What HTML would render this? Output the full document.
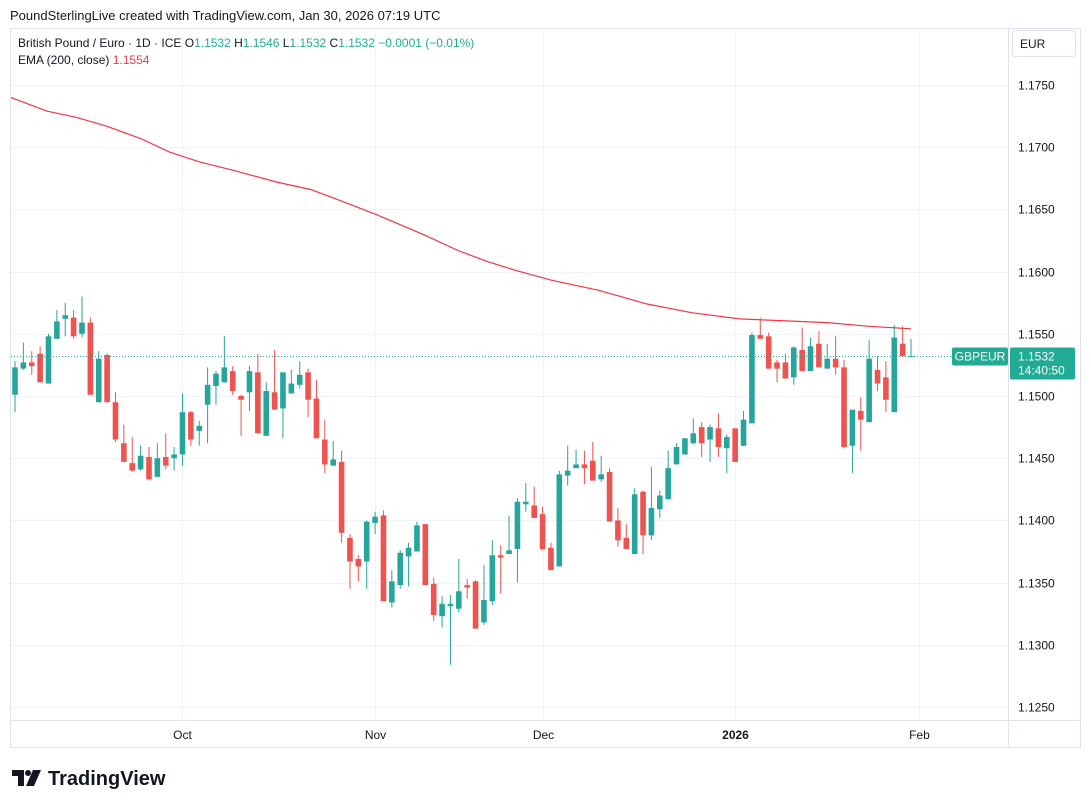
<!DOCTYPE html>
<html><head><meta charset="utf-8"><style>
body{margin:0;background:#fff;font-family:"Liberation Sans",sans-serif;}
#wrap{position:relative;width:1091px;height:808px;overflow:hidden;}
svg text{font-family:"Liberation Sans",sans-serif;}
</style></head><body>
<div id="wrap">
<svg id="chart" width="1091" height="808"></svg>
</div>
<script>
const open=[1.1501,1.1522,1.1527,1.1534,1.1510,1.1546,1.1562,1.1563,1.1550,1.1559,1.1495,1.1533,1.1495,1.1462,1.1446,1.1441,1.1451,1.1435,1.1451,1.1450,1.1453,1.1487,1.1472,1.1493,1.1508,1.1511,1.1520,1.1500,1.1503,1.1519,1.1468,1.1503,1.1490,1.1502,1.1509,1.1519,1.1498,1.1465,1.1444,1.1447,1.1386,1.1369,1.1367,1.1398,1.1404,1.1334,1.1348,1.1371,1.1375,1.1397,1.1349,1.1323,1.1331,1.1329,1.1348,1.1351,1.1318,1.1335,1.1372,1.1373,1.1377,1.1413,1.1412,1.1405,1.1378,1.1363,1.1436,1.1442,1.1445,1.1448,1.1433,1.1439,1.1400,1.1386,1.1373,1.1423,1.1388,1.1409,1.1417,1.1445,1.1453,1.1462,1.1475,1.1465,1.1474,1.1458,1.1474,1.1460,1.1478,1.1549,1.1548,1.1527,1.1527,1.1515,1.1537,1.1520,1.1542,1.1522,1.1530,1.1523,1.1460,1.1488,1.1479,1.1521,1.1515,1.1487,1.1542,1.1532];
const high=[1.1528,1.1543,1.1536,1.1540,1.1550,1.1569,1.1575,1.1569,1.1580,1.1563,1.1536,1.1534,1.1503,1.1477,1.1467,1.1460,1.1459,1.1462,1.1470,1.1459,1.1502,1.1488,1.1480,1.1523,1.1520,1.1548,1.1524,1.1501,1.1524,1.1534,1.1511,1.1537,1.1519,1.1521,1.1528,1.1522,1.1513,1.1481,1.1464,1.1456,1.1389,1.1372,1.1400,1.1407,1.1408,1.1360,1.1376,1.1382,1.1399,1.1397,1.1354,1.1339,1.1340,1.1369,1.1353,1.1352,1.1364,1.1384,1.1380,1.1404,1.1418,1.1430,1.1427,1.1411,1.1382,1.1440,1.1460,1.1457,1.1456,1.1463,1.1452,1.1442,1.1410,1.1397,1.1426,1.1424,1.1443,1.1424,1.1456,1.1462,1.1466,1.1482,1.1479,1.1477,1.1486,1.1469,1.1474,1.1488,1.1551,1.1563,1.1551,1.1529,1.1534,1.1540,1.1555,1.1547,1.1552,1.1542,1.1548,1.1529,1.1489,1.1499,1.1545,1.1532,1.1528,1.1557,1.1556,1.1546];
const low=[1.1487,1.1521,1.1517,1.1511,1.1510,1.1546,1.1548,1.1546,1.1547,1.1501,1.1495,1.1495,1.1463,1.1447,1.1439,1.1440,1.1432,1.1435,1.1441,1.1440,1.1444,1.1460,1.1460,1.1462,1.1493,1.1511,1.1501,1.1468,1.1488,1.1470,1.1468,1.1489,1.1466,1.1502,1.1506,1.1483,1.1466,1.1438,1.1444,1.1382,1.1345,1.1351,1.1345,1.1389,1.1335,1.1330,1.1345,1.1347,1.1375,1.1348,1.1319,1.1314,1.1284,1.1326,1.1337,1.1313,1.1316,1.1332,1.1341,1.1373,1.1350,1.1407,1.1402,1.1376,1.1360,1.1363,1.1428,1.1445,1.1429,1.1432,1.1431,1.1399,1.1379,1.1377,1.1373,1.1373,1.1384,1.1402,1.1417,1.1445,1.1453,1.1461,1.1451,1.1447,1.1451,1.1438,1.1447,1.1460,1.1478,1.1546,1.1522,1.1511,1.1514,1.1509,1.1520,1.1520,1.1523,1.1522,1.1517,1.1458,1.1438,1.1456,1.1479,1.1504,1.1487,1.1487,1.1532,1.1532];
const close=[1.1523,1.1527,1.1524,1.1511,1.1548,1.1560,1.1565,1.1548,1.1559,1.1501,1.1530,1.1495,1.1465,1.1447,1.1440,1.1452,1.1433,1.1450,1.1444,1.1453,1.1487,1.1465,1.1476,1.1509,1.1518,1.1523,1.1504,1.1497,1.1520,1.1470,1.1504,1.1489,1.1519,1.1510,1.1517,1.1497,1.1466,1.1445,1.1449,1.1390,1.1367,1.1363,1.1399,1.1403,1.1335,1.1351,1.1374,1.1378,1.1396,1.1348,1.1324,1.1333,1.1333,1.1343,1.1346,1.1313,1.1336,1.1372,1.1370,1.1376,1.1415,1.1415,1.1402,1.1377,1.1360,1.1437,1.1440,1.1445,1.1442,1.1432,1.1437,1.1399,1.1384,1.1377,1.1421,1.1388,1.1410,1.1420,1.1442,1.1459,1.1466,1.1470,1.1462,1.1475,1.1459,1.1467,1.1447,1.1481,1.1549,1.1546,1.1522,1.1522,1.1514,1.1539,1.1520,1.1540,1.1523,1.1530,1.1523,1.1459,1.1489,1.1481,1.1530,1.1510,1.1497,1.1547,1.1532,1.1532];
const emaIdx=[-0.5,3.8,7.3,10.9,15,18.5,22.1,26.3,31.2,35.3,38.1,43.1,48.7,52.9,56.4,59.8,64.1,69.7,75.4,80.8,86.5,97,102,107];
const emaVal=[1.1740,1.1729,1.1724,1.1717,1.1707,1.1696,1.1688,1.1681,1.1672,1.1666,1.1659,1.1646,1.1630,1.1617,1.1608,1.1601,1.1593,1.1585,1.1574,1.1567,1.1562,1.1559,1.1556,1.1554];
const priceTicks=[1.1250,1.1300,1.1350,1.1400,1.1450,1.1500,1.1550,1.1600,1.1650,1.1700,1.1750];
const monthIdx=[20,43,63,86,108];
const monthLabels=["Oct","Nov","Dec","2026","Feb"];
const lastPrice=1.1532;

const NS="http://www.w3.org/2000/svg";
const svg=document.getElementById('chart');
function y(p){return 85+(1.1750-p)*12440;}
function x(i){return 15+i*8.374;}
function mk(t,a,parent){const e=document.createElementNS(NS,t);for(const k in a)e.setAttribute(k,a[k]);(parent||svg).appendChild(e);return e;}
const UP="#26a69a",DN="#ef5350";
let e;
e=mk('rect',{x:10.5,y:28.5,width:1070,height:719,fill:'none',stroke:'#e0e3eb'});


e=mk('line',{x1:1008.5,y1:28,x2:1008.5,y2:748,stroke:'#e0e3eb'});


e=mk('line',{x1:10,y1:720.5,x2:1081,y2:720.5,stroke:'#e0e3eb'});


priceTicks.forEach(p=>{
 const yy=Math.round(y(p))+0.5;
 e=mk('line',{x1:11,y1:yy,x2:1008,y2:yy,stroke:'#f0f3fa'});
 
 
 e=mk('text',{x:1018,y:yy+4,'font-size':12,fill:'#131722'});
 e.textContent=p.toFixed(4);
 
 
});
monthIdx.forEach((m,k)=>{
 const xx=Math.round(x(m))+0.5;
 e=mk('line',{x1:xx,y1:29,x2:xx,y2:720,stroke:'#f0f3fa'});
 
 
 e=mk('text',{x:xx,y:739,'font-size':12,fill:'#131722','text-anchor':'middle','font-weight':monthLabels[k]==='2026'?'bold':'normal'});
 e.textContent=monthLabels[k];
 
 
});
const pts=emaIdx.map((v,k)=>x(v).toFixed(1)+','+y(emaVal[k]).toFixed(1)).join(' ');
e=mk('polyline',{points:pts,fill:'none',stroke:'#f23645','stroke-width':1.2});


open.forEach((o,i)=>{
 const c=close[i],col=c>=o?UP:DN,cx=x(i);
 const g=mk('g',{});
 
 
 mk('line',{x1:cx,y1:y(high[i]),x2:cx,y2:y(low[i]),stroke:col,'stroke-width':1},g);
 const t=y(Math.max(o,c)),b=y(Math.min(o,c));
 mk('rect',{x:cx-2.8,y:t,width:5.6,height:Math.max(1,b-t),fill:col},g);
});
const ly=Math.round(y(lastPrice))+0.5;
e=mk('line',{x1:11,y1:ly,x2:1008,y2:ly,stroke:UP,'stroke-dasharray':'1,2'});


e=mk('rect',{x:952,y:ly-9,width:56,height:18,rx:2,fill:'#22ab94'});


e=mk('text',{x:980,y:ly+4,'font-size':12,fill:'#fff','text-anchor':'middle'});e.textContent='GBPEUR';


e=mk('rect',{x:1010,y:ly-9,width:65,height:32,rx:2,fill:'#22ab94'});


e=mk('text',{x:1018,y:ly+4,'font-size':12,fill:'#fff'});e.textContent=lastPrice.toFixed(4);


e=mk('text',{x:1018,y:ly+18,'font-size':12,fill:'#fff'});e.textContent='14:40:50';


e=mk('rect',{x:1012.5,y:30.5,width:63,height:26,rx:3,fill:'#fff',stroke:'#e0e3eb'});


e=mk('text',{x:1020,y:48,'font-size':12,fill:'#131722'});e.textContent='EUR';


e=mk('text',{x:10,y:20,'font-size':13,fill:'#131722'});e.textContent='PoundSterlingLive created with TradingView.com, Jan 30, 2026 07:19 UTC';


e=mk('text',{x:18,y:47,'font-size':12,fill:'#131722'});
e.innerHTML='British Pound / Euro · 1D · ICE  O<tspan fill="#22ab94">1.1532</tspan> H<tspan fill="#22ab94">1.1546</tspan> L<tspan fill="#22ab94">1.1532</tspan> C<tspan fill="#22ab94">1.1532</tspan> <tspan fill="#22ab94">−0.0001 (−0.01%)</tspan>';


e=mk('text',{x:18,y:64,'font-size':12,fill:'#131722'});
e.innerHTML='EMA (200, close) <tspan fill="#f23645">1.1554</tspan>';


const logo=mk('g',{fill:'#131722'});


mk('path',{d:'M12 770 H24 V786 H18 V776 H12 Z'},logo);
mk('circle',{cx:28,cy:773,r:3},logo);
mk('path',{d:'M33 770 H41 L34 786 H26 Z'},logo);
e=mk('text',{x:48,y:785,'font-size':20,'font-weight':'bold',fill:'#131722'});e.textContent='TradingView';


</script>
</body></html>
